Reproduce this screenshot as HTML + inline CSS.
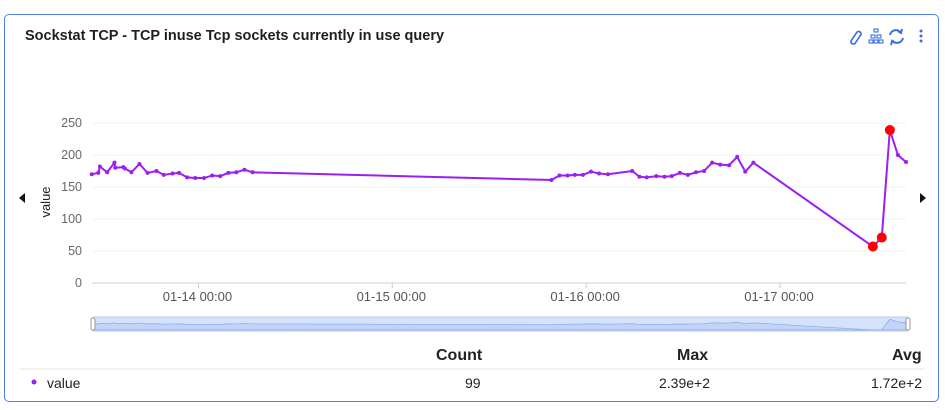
<!DOCTYPE html>
<html><head><meta charset="utf-8"><style>
body{margin:0;width:945px;height:410px;background:#fff;font-family:"Liberation Sans",sans-serif;overflow:hidden}
.card{position:absolute;left:4px;top:14px;width:935px;height:388px;border:1px solid #4f7fe8;border-radius:5px;box-sizing:border-box}
.title{position:absolute;left:25px;top:28px;font-size:14.5px;font-weight:bold;color:#1f1f1f}
svg{position:absolute;left:0;top:0}
.t{position:absolute;font-size:14px;color:#222}
</style></head><body>
<div class="card"></div>
<div class="title">Sockstat TCP - TCP inuse Tcp sockets currently in use query</div>
<svg id="chart" width="945" height="410">
 <g fill="none" stroke="#3b6fe0" stroke-width="1.6">
  <path d="M851 41 l6 -9 a2.5 2.5 0 0 1 4 2.5 l-6 9 a2.5 2.5 0 0 1 -4 -2.5z"/>
  <g stroke-width="1.1"><rect x="874" y="29" width="4" height="3"/><rect x="871" y="35" width="4" height="3"/><rect x="877" y="35" width="4" height="3"/><rect x="869" y="40" width="4" height="3"/><rect x="874" y="40" width="4" height="3"/><rect x="879" y="40" width="4" height="3"/></g>
  <g stroke-width="2"><path d="M890 35 a6 6 0 0 1 11 -2"/><path d="M903 38 a6 6 0 0 1 -11 2"/><path d="M898 31 l3 2 l1 -4"/><path d="M895 43 l-3 -2 l-1 4"/></g>
  <g fill="#3b6fe0" stroke="none"><circle cx="921" cy="31" r="1.5"/><circle cx="921" cy="36" r="1.5"/><circle cx="921" cy="41" r="1.5"/></g>
 </g>
 <path d="M19 198 l6 -5 v10z" fill="#111"/>
 <path d="M926 198 l-6 -5 v10z" fill="#111"/>
 <text x="50" y="202" transform="rotate(-90 50 202)" text-anchor="middle" font-size="13" fill="#222">value</text>
 <g id="grid"></g><g id="xt"></g><g id="series"></g>
 <g>
  <rect x="93" y="317" width="815" height="14" fill="#d5e2fb" stroke="#b8cbf2"/>
  <path id="mini" fill="#c3d4f6" stroke="#8fb0ee" stroke-width="0.8"/>
  <rect x="91" y="318" width="4" height="12" rx="2" fill="#fff" stroke="#999"/>
  <rect x="906" y="318" width="4" height="12" rx="2" fill="#fff" stroke="#999"/>
 </g>
 <line x1="20" y1="369" x2="924" y2="369" stroke="#e6e6e6"/>
 <circle cx="34" cy="382" r="2.5" fill="#9b1ff0"/>
</svg>
<div class="t" style="left:436px;top:347px;font-weight:bold;font-size:16px">Count</div>
<div class="t" style="left:677px;top:347px;font-weight:bold;font-size:16px">Max</div>
<div class="t" style="left:892px;top:347px;font-weight:bold;font-size:16px">Avg</div>
<div class="t" style="left:47px;top:375px">value</div>
<div class="t" style="left:465px;top:375px">99</div>
<div class="t" style="left:659px;top:375px">2.39e+2</div>
<div class="t" style="left:871px;top:375px">1.72e+2</div>
<script>
const hours=[-13.2,-12.4,-12.2,-11.3,-10.4,-10.3,-9.3,-9.1,-8.3,-7.3,-6.3,-5.2,-4.3,-3.2,-2.4,-1.4,-0.4,0.7,1.7,2.7,3.7,4.7,5.7,6.7,
43.7,44.7,45.7,46.6,47.6,48.6,49.6,50.7,53.7,54.6,55.5,56.7,57.7,58.6,59.6,60.6,61.6,62.6,63.6,64.6,65.7,66.7,67.7,68.7,83.5,84.6,85.6,86.6,87.6];
const values=[170,172,182,173,188,180,181,179,173,186,172,175,169,171,172,165,164,164,168,167,172,173,177,173,
161,168,168,169,169,174,171,170,175,166,165,167,166,167,172,169,173,175,188,185,184,197,174,188,57,71,239,200,189];
const anomalies=[0,0,0,0,0,0,0,0,0,0,0,0,0,0,0,0,0,0,0,0,0,0,0,0,0,0,0,0,0,0,0,0,0,0,0,0,0,0,0,0,0,0,0,0,0,0,0,0,1,1,1,0,0];
const yTicks=[0,50,100,150,200,250];
const xTickHours=[0,24,48,72];
const xTickLabels=["01-14 00:00","01-15 00:00","01-16 00:00","01-17 00:00"];
const NS="http://www.w3.org/2000/svg";
const X=h=>91+(h+13.3)*(815/100.9);
const Y=v=>283-v*0.64;
function mk(t,a,p){const e=document.createElementNS(NS,t);for(const k in a)e.setAttribute(k,a[k]);p.appendChild(e);return e;}
const grid=document.getElementById('grid');
yTicks.forEach(v=>{
 const l=mk('line',{x1:92,x2:906,y1:Y(v),y2:Y(v),stroke:v?'#f0f0f0':'#d0d0d0'},grid);
 
 
 const t=mk('text',{x:82,y:Y(v)+4,'text-anchor':'end','font-size':12.5,fill:'#666'},grid);t.textContent=v;
 
 
});
const xt=document.getElementById('xt');
xTickHours.forEach((h,i)=>{
 const l=mk('line',{x1:X(h),x2:X(h),y1:283,y2:288,stroke:'#ccc'},xt);
 
 
 const t=mk('text',{x:X(h)-1,y:301,'text-anchor':'middle','font-size':13,fill:'#555'},xt);t.textContent=xTickLabels[i];
 
 
});
const s=document.getElementById('series');
const pts=hours.map((h,i)=>X(h)+','+Y(values[i])).join(' ');
const pl=mk('polyline',{points:pts,fill:'none',stroke:'#9b1ff0','stroke-width':2},s);


hours.forEach((h,i)=>{
 const c=mk('circle',{cx:X(h),cy:Y(values[i]),r:anomalies[i]?5:2,fill:anomalies[i]?'#f00':'#9b1ff0'},s);
 
 
});
const MY=v=>336-v*0.07;
let d='M'+X(hours[0])+' 330 '+hours.map((h,i)=>'L'+X(h)+' '+Math.min(330,MY(values[i]))).join(' ')+' L'+X(hours[hours.length-1])+' 330Z';
document.getElementById('mini').setAttribute('d',d);
</script>
</body></html>
